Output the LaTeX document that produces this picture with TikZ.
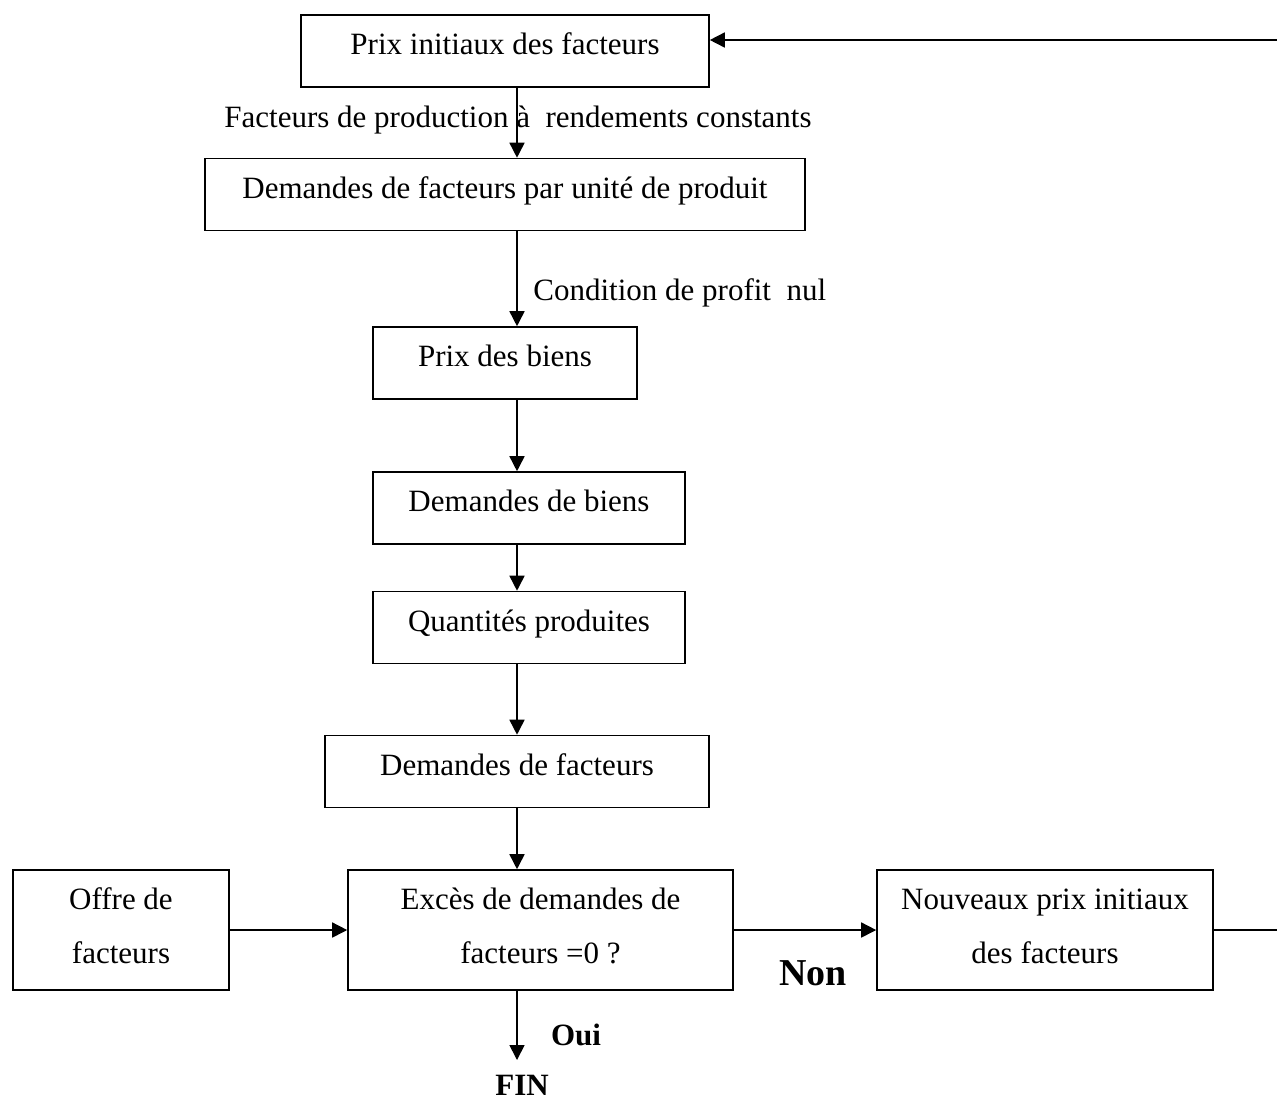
\documentclass[tikz,border=0pt]{standalone}
\usepackage{fontspec}
\setmainfont{Liberation Serif}
\usepackage{tikz}
\usetikzlibrary{arrows.meta}

\tikzset{
  box/.style={draw, line width=0.8pt, inner sep=0pt, minimum height=36pt,
    text height=11pt, text depth=7.5pt, font=\fontsize{15.5}{18}\selectfont},
  tallbox/.style={draw, line width=0.8pt, inner sep=0pt, minimum height=60pt,
    align=center, text height=38pt, text depth=5pt, font=\fontsize{15.5}{27}\selectfont},
  flow/.style={line width=0.8pt, -{Triangle[length=7.5pt,width=7.5pt]}},
  lbl/.style={inner sep=0pt, font=\fontsize{15.5}{18}\selectfont},
  answer/.style={inner sep=0pt, font=\fontsize{15.5}{18}\selectfont\bfseries}
}

\begin{document}
\begin{tikzpicture}[x=0.5pt,y=-0.5pt]
\useasboundingbox (0,0) rectangle (1277,1099);

%Shape: Rectangles
\node [box, minimum width=204pt] (prixinit) at (505,51) {Prix initiaux des facteurs};
\node [box, minimum width=300pt] (demunit) at (505,194.5) {Demandes de facteurs par unité de produit};
\node [box, minimum width=132pt] (prixbiens) at (505,363) {Prix des biens};
\node [box, minimum width=156pt] (dembiens) at (529,508) {Demandes de biens};
\node [box, minimum width=156pt] (quant) at (529,627.5) {Quantités produites};
\node [box, minimum width=192pt] (demfact) at (517,771.5) {Demandes de facteurs};
\node [tallbox, minimum width=108pt] (offre) at (121,930) {Offre de\\facteurs};
\node [tallbox, minimum width=192.5pt] (exces) at (540.5,930) {Excès de demandes de\\facteurs =0 ?};
\node [tallbox, minimum width=168pt] (nouveaux) at (1045,930) {Nouveaux prix initiaux\\des facteurs};

\coordinate (spine) at (517,0);
\coordinate (loopR) at (1280,40);
\coordinate (finarrow) at (517,1060);

%Straight Lines: main chain
\draw [flow] (prixinit.south -| spine) -- (demunit.north -| spine);
\draw [flow] (demunit.south -| spine) -- (prixbiens.north -| spine);
\draw [flow] (prixbiens.south -| spine) -- (dembiens.north -| spine);
\draw [flow] (dembiens.south -| spine) -- (quant.north -| spine);
\draw [flow] (quant.south -| spine) -- (demfact.north -| spine);
\draw [flow] (demfact.south -| spine) -- (exces.north -| spine);
\draw [flow] (exces.south -| spine) -- (finarrow);
%Straight Lines: bottom row and loop
\draw [flow] (offre.east) -- (exces.west);
\draw [flow] (exces.east) -- (nouveaux.west);
\draw [flow] (nouveaux.east) -- (loopR |- nouveaux.east) -- (loopR) -- (loopR -| prixinit.east);

% Text Node
\node [lbl] (rendlbl) at (518,120) {Facteurs de production à\ \ rendements constants};
% Text Node
\node [lbl, anchor=west] (proflbl) at (533,293) {Condition de profit\ \ nul};
% Text Node
\node [answer, font=\fontsize{19}{22}\selectfont\bfseries] (non) at (813,973) {Non};
% Text Node
\node [answer] (oui) at (576,1035) {Oui};
% Text Node
\node [answer] (fin) at (522,1085) {FIN};

\end{tikzpicture}
\end{document}
